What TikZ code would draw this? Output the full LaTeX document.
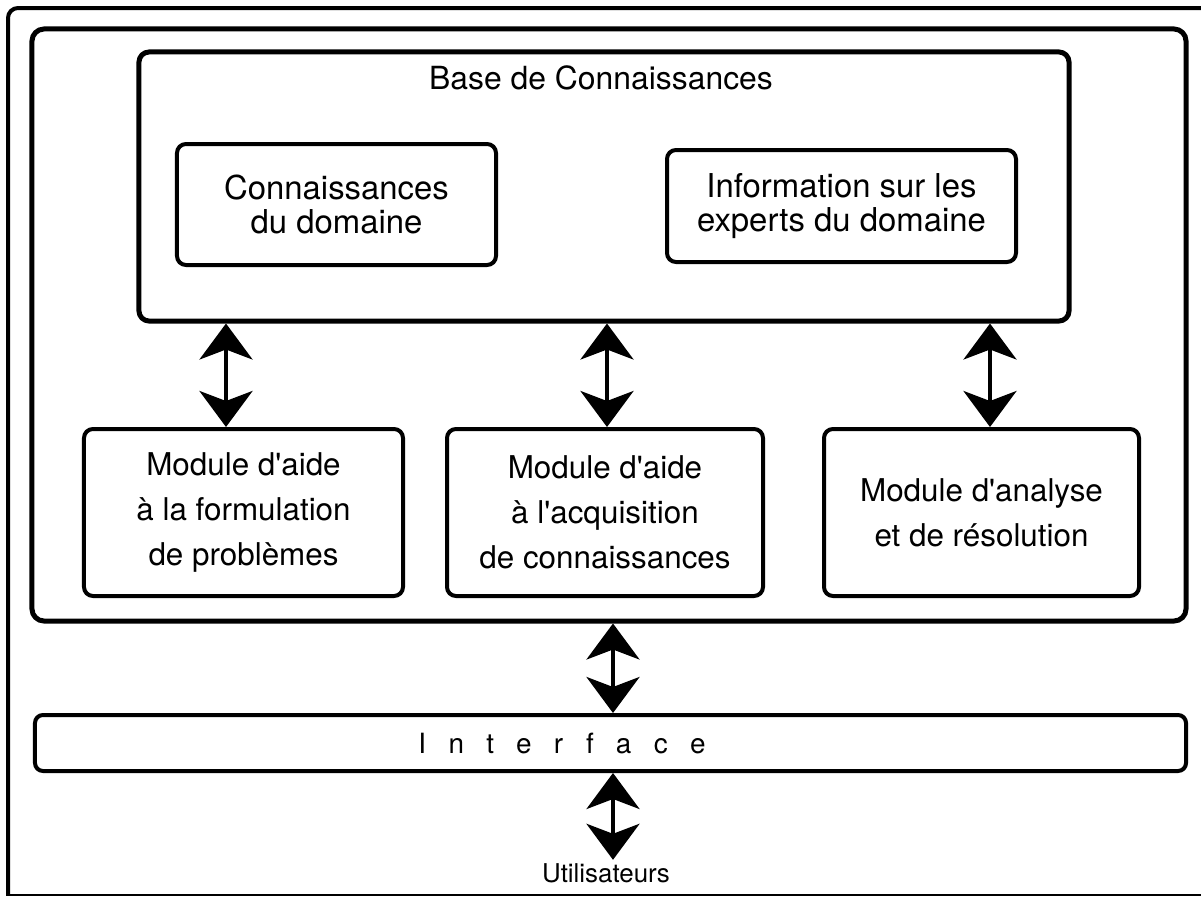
\documentclass[tikz,border=0pt]{standalone}
\usepackage{fontspec}
\setmainfont{TeX Gyre Heros}
\usetikzlibrary{arrows.meta}
\tikzset{
  box/.style={draw, line width=5bp, rounded corners=12bp, inner sep=0pt},
  smallbox/.style={box, line width=4bp, rounded corners=9bp, align=center, font=\fontsize{33}{34}\selectfont},
  modbox/.style={box, line width=4bp, rounded corners=9bp, align=center, font=\fontsize{31.5}{45}\selectfont},
  dblarrow/.style={{Stealth[length=36bp,width=53bp,inset=10bp]}-{Stealth[length=36bp,width=53bp,inset=10bp]}, line width=4bp}
}
\begin{document}
\begin{tikzpicture}[x=1bp, y=-1bp]
			\useasboundingbox (0,0) rectangle (1201,897);
			% outer frame, cut off on the right
			\draw[line width=4bp, rounded corners=10bp] (1210,8) -- (8,8) -- (8,895);
			\draw[line width=2bp] (6,895) -- (1210,895);
			\node[box, minimum width=1154bp, minimum height=592bp] (system) at (609,325) {};
			\node[box, rounded corners=10bp, minimum width=930bp, minimum height=269bp] (base) at (604,186.5) {};
			\node[font=\fontsize{32}{34}\selectfont] (basetitle) at (601,78) {Base de Connaissances};
			\node[smallbox, minimum width=319bp, minimum height=121bp] (domain) at (336.5,204.5) {Connaissances\\du domaine};
			\node[smallbox, minimum width=349bp, minimum height=112bp] (experts) at (841.5,206) {Information sur les\\experts du domaine};
			\node[modbox, minimum width=319bp, minimum height=167bp] (formul) at (243.5,512.5) {Module d\textquotesingle aide\\à la formulation\\de problèmes};
			\node[modbox, minimum width=316bp, minimum height=167bp] (acquis) at (605,512.5) {Module d\textquotesingle aide\\à l\textquotesingle acquisition\\de connaissances};
			\node[modbox, minimum width=315bp, minimum height=167bp] (analyse) at (981.5,512.5) {Module d\textquotesingle analyse\\et de résolution};
			\node[box, line width=4bp, rounded corners=8bp, minimum width=1151bp, minimum height=56bp] (interface) at (610.5,743) {};
			\node[font=\fontsize{28}{30}\selectfont] (ifacelabel) at (562,743) {\addfontfeature{LetterSpace=80}Interface};
			\node[font=\fontsize{26}{28}\selectfont] (users) at (606,873) {Utilisateurs};
			\coordinate (a1) at (226,0);
			\coordinate (a2) at (607,0);
			\coordinate (a3) at (990,0);
			\coordinate (a4) at (613,0);
			\draw[dblarrow] (base.south -| a1) -- (formul.north -| a1);
			\draw[dblarrow] (base.south -| a2) -- (acquis.north -| a2);
			\draw[dblarrow] (base.south -| a3) -- (analyse.north -| a3);
			\draw[dblarrow] (system.south -| a4) -- (interface.north -| a4);
			\draw[dblarrow] (interface.south -| a4) -- (users.north -| a4);
		\end{tikzpicture}
\end{document}
